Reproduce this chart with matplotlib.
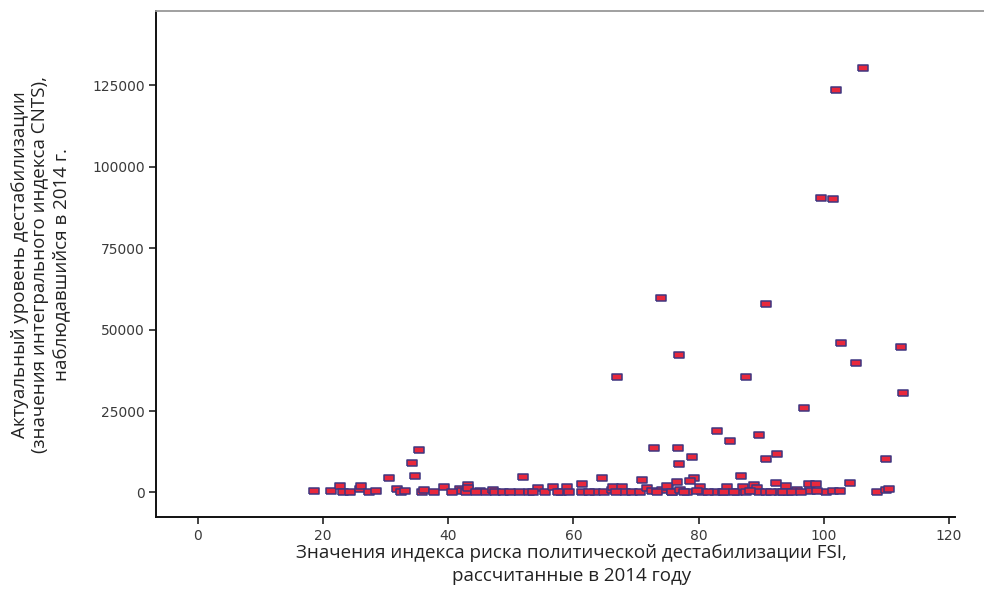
import numpy as np
import matplotlib
matplotlib.use("Agg")
import matplotlib.pyplot as plt
from matplotlib.lines import Line2D

# FSI 2014 (x) vs CNTS 2014 (y)
fsi = [106.2, 102.0, 99.5, 101.4, 74.0, 90.8, 102.8, 112.4, 105.2, 76.8,
       67.0, 87.6, 112.7, 96.9,
       18.5, 21.2, 22.7, 23.2, 24.3, 25.9, 26.1, 27.3, 28.4, 30.5,
       31.8, 32.5, 33.1, 34.2, 34.7, 35.4, 35.8, 36.2, 37.8, 39.3,
       41.9, 42.2, 42.9, 43.2, 43.1, 45.0, 46.1, 47.2, 47.4, 48.8,
       51.3, 52.0, 52.9, 54.3, 55.4, 56.8, 58.0, 58.9, 59.3, 61.3,
       61.3, 63.4, 64.6, 64.9, 66.2, 66.4, 67.8, 68.2, 69.3, 70.6,
       70.9, 71.7, 72.6, 72.9, 74.2, 75.1, 75.8, 76.5, 76.7, 76.9,
       74.9, 75.7, 77.0, 78.1, 78.9, 79.3, 78.6, 80.2, 80.6, 83.0,
       82.6, 83.9, 84.5, 85.1, 86.1, 86.7, 87.1, 87.5, 88.8, 89.3,
       89.6, 89.6, 90.8, 90.8, 92.6, 92.4, 92.9, 94.0, 94.3, 95.7,
       97.7, 97.8, 98.8, 100.4, 101.5, 102.6, 104.2, 109.9, 108.5, 110.0,
       110.4, 73.4, 77.6, 79.8, 81.5, 84.0, 85.6, 88.2, 91.5, 93.5,
       95.0, 96.3, 99.0, 66.8, 62.5, 57.5, 53.6, 49.9, 44.4, 40.6]
cnts = [130500, 123700, 90550, 90030, 59660, 57900, 45770, 44730, 39820, 42270,
        35430, 35430, 30430, 26010,
        550, 550, 1900, 250, 0, 1170, 2000, 150, 550, 4540,
        980, 0, 550, 9140, 5060, 13130, 0, 860, 0, 1600,
        1170, 550, 0, 2200, 1290, 550, 0, 770, 0, 0,
        0, 4750, 0, 1290, 0, 1600, 0, 1600, 0, 2600,
        0, 0, 4540, 0, 770, 1600, 1600, 0, 0, 0,
        3740, 1290, 550, 13740, 770, 1600, 0, 3310, 13740, 8650,
        2000, 0, 770, 0, 10890, 4540, 3620, 1600, 0, 18770,
        0, 0, 1780, 15700, 0, 5150, 1600, 0, 2200, 1290,
        17640, 0, 0, 10280, 11900, 3010, 0, 2000, 0, 770,
        2600, 550, 2600, 250, 550, 550, 3010, 10280, 0, 770,
        1170, 300, 200, 400, 100, 300, 0, 500, 200, 100,
        300, 0, 400, 200, 100, 300, 0, 200, 0, 100]

xticks = [0, 20, 40, 60, 80, 100, 120]
yticks = [0, 25000, 50000, 75000, 100000, 125000]

xlabel = "Значения индекса риска политической дестабилизации FSI,\nрассчитанные в 2014 году"
ylabel = "Актуальный уровень дестабилизации\n(значения интегрального индекса CNTS),\nнаблюдавшийся в 2014 г."

fig = plt.figure(figsize=(9.84, 5.94), dpi=100)
ax = fig.add_axes([0.159, 0.1288, 0.8115, 0.8527])

# wide flat box marker like SPSS
box = [(-1.35, -1.0), (1.35, -1.0), (1.35, 1.0), (-1.35, 1.0), (-1.35, -1.0)]
ax.scatter(fsi, cnts, marker=box, s=46, facecolor='#e8283c',
           edgecolor='#3e3680', linewidths=1.1, zorder=3)

ax.set_xlim(-6.63, 120.97)
ax.set_ylim(-7680, 147880)
ax.set_xticks(xticks)
ax.set_yticks(yticks)
ax.tick_params(direction='out', length=5, width=1.2, color='#222222',
               labelsize=10, labelcolor='#3a3a3a')
for lab in ax.get_xticklabels() + ax.get_yticklabels():
    lab.set_family(['DejaVu Sans'])

ax.spines['right'].set_visible(False)
ax.spines['top'].set_visible(False)
for s in ['left', 'bottom']:
    ax.spines[s].set_linewidth(1.4)
    ax.spines[s].set_color('#111111')
# gray top line runs from the axis to the right edge
fig.add_artist(Line2D([0.159, 1.0], [0.9815, 0.9815], color='#999999', lw=1.3))

fig.text(0.581, 0.05, xlabel, ha='center', va='center', ma='center',
         fontsize=13.5, linespacing=1.4,
         family=['Open Sans', 'DejaVu Sans'], color='#222222')
fig.text(0.041, 0.555, ylabel, ha='center', va='center', ma='center',
         rotation=90, fontsize=13.5, linespacing=1.2,
         family=['Open Sans', 'DejaVu Sans'], color='#222222')

plt.savefig('out.png', dpi=100)
